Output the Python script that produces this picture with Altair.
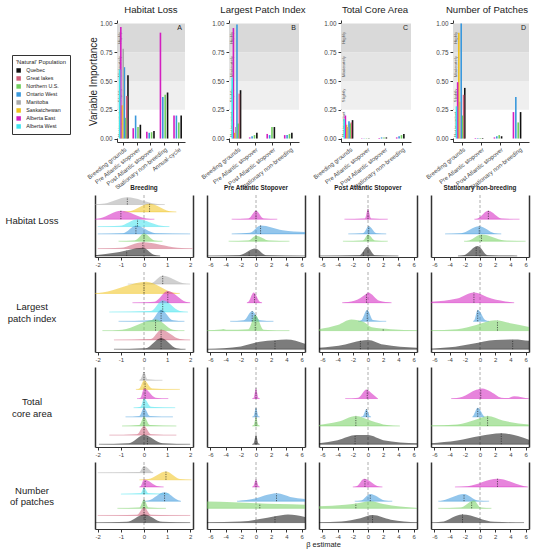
import altair as alt
import numpy as np
import pandas as pd

# ---------------------------------------------------------------- populations
POPS = ["Quebec", "Great lakes", "Northern U.S.", "Ontario West",
        "Manitoba", "Saskatchewan", "Alberta East", "Alberta West"]
POP_COLORS = ["#111111", "#d0607a", "#72cf5e", "#3a98dc",
              "#a9a9a9", "#f0c21c", "#d31fc0", "#3fe3ee"]
LEGEND_TITLE = "'Natural' Population"

# ------------------------------------------------------ variable importance
METRICS = ["Habitat Loss", "Largest Patch Index", "Total Core Area", "Number of Patches"]
PANEL_LETTERS = ["A", "B", "C", "D"]
SEASONS = ["Breeding grounds", "Pre Atlantic stopover", "Post Atlantic stopover",
           "Stationary non-breeding", "Annual-cycle"]
IMPORTANCE_BANDS = ["Not important", "Slightly", "Moderately", "Highly"]
BAND_LIMITS = [0.0, 0.25, 0.5, 0.75, 1.0]
BAND_SHADES = ["#ffffff", "#efefef", "#e4e4e4", "#d9d9d9"]

# breeding-ground importance, POPS order
BREEDING_IMPORTANCE = {
    "Habitat Loss":        [0.55, 0.37, 0.18, 0.62, 0.78, 0.29, 0.97, 0.60],
    "Largest Patch Index": [0.42, 0.39, 0.13, 0.99, 0.10, 0.05, 0.96, 0.53],
    "Total Core Area":     [0.16, 0.14, 0.13, 0.15, 0.10, 0.12, 0.20, 0.17],
    "Number of Patches":   [0.44, 0.38, 0.20, 1.00, 0.32, 0.92, 0.49, 0.28],
}
# other periods, STOPOVER_POPS order
STOPOVER_POPS = ["Alberta East", "Ontario West", "Northern U.S.", "Quebec"]
OTHER_IMPORTANCE = {
    "Habitat Loss": {
        "Pre Atlantic stopover":   [0.09, 0.20, 0.10, 0.12],
        "Post Atlantic stopover":  [0.06, 0.05, 0.055, 0.065],
        "Stationary non-breeding": [0.92, 0.36, 0.38, 0.40],
        "Annual-cycle":            [0.20, 0.20, 0.14, 0.20],
    },
    "Largest Patch Index": {
        "Pre Atlantic stopover":   [0.01, 0.02, 0.03, 0.05],
        "Post Atlantic stopover":  [0.04, 0.03, 0.10, 0.10],
        "Stationary non-breeding": [0.03, 0.03, 0.04, 0.05],
    },
    "Total Core Area": {
        "Pre Atlantic stopover":   [0.003, 0.003, 0.003, 0.003],
        "Post Atlantic stopover":  [0.005, 0.01, 0.01, 0.01],
        "Stationary non-breeding": [0.01, 0.02, 0.03, 0.04],
    },
    "Number of Patches": {
        "Pre Atlantic stopover":   [0.005, 0.005, 0.005, 0.005],
        "Post Atlantic stopover":  [0.01, 0.02, 0.03, 0.02],
        "Stationary non-breeding": [0.23, 0.36, 0.14, 0.23],
    },
}
# left-to-right order of the dodged bars
DODGE_ORDER = ["Alberta West", "Alberta East", "Saskatchewan", "Manitoba",
               "Ontario West", "Northern U.S.", "Great lakes", "Quebec"]

# ------------------------------------------------------------ beta estimates
TRAITS = ["Habitat Loss", "Largest patch index", "Total core area", "Number of patches"]
TRAIT_LABELS = ["Habitat Loss", "Largest\npatch index", "Total\ncore area", "Number\nof patches"]
PERIODS = ["Breeding", "Pre Atlantic Stopover", "Post Atlantic Stopover", "Stationary non-breeding"]
RIDGE_SLOT = {"Quebec": 0, "Great lakes": 1, "Northern U.S.": 2, "Ontario West": 3,
              "Alberta West": 4, "Alberta East": 5, "Saskatchewan": 6, "Manitoba": 7}

# each ridge: population, density knots (beta), density heights, median
RIDGES = {
    ("Habitat Loss", "Breeding"): [
        ("Manitoba",      [-2.12, -1.7, -0.72, 0.5, 0.9],   [0.03, 0.15, 1.0, 0.1, 0], -0.72),
        ("Saskatchewan",  [-0.9, -0.6, 0.24, 1.1, 1.4],     [0, 0.1, 1.1, 0.1, 0], 0.24),
        ("Alberta East",  [-2.12, -1.9, -1.0, 0.1, 0.45],   [0.02, 0.12, 1.15, 0.1, 0], -1.0),
        ("Alberta West",  [-2.0, -1.05, -0.28, 0.75, 1.1],  [0, 0.1, 1.0, 0.1, 0], -0.28),
        ("Ontario West",  [-2.0, -0.9, -0.35, 0.5, 2.0],    [0, 0.1, 1.1, 0.1, 0], -0.35),
        ("Northern U.S.", [-1.1, -0.4, 0.0, 0.45, 0.8],     [0, 0.1, 1.05, 0.1, 0], 0.0),
        ("Great lakes",   [-2.0, -1.0, -0.05, 1.45, 2.1],   [0, 0.1, 0.85, 0.1, 0], -0.05),
        ("Quebec",        [-2.12, -1.2, -0.05, 0.4, 0.7],   [0.1, 0.45, 1.1, 0.2, 0], -0.75),
    ],
    ("Habitat Loss", "Pre Atlantic Stopover"): [
        ("Alberta East",  [-3.2, -1.0, 0.0, 1.0, 2.8],      [0, 0.1, 1.15, 0.1, 0], 0.0),
        ("Ontario West",  [-3.2, -0.8, 0.6, 3.5, 6.45],     [0, 0.15, 1.15, 0.5, 0.25], 0.6),
        ("Northern U.S.", [-3.6, -1.0, 0.0, 1.7, 4.4],      [0, 0.1, 0.75, 0.1, 0], 0.0),
        ("Quebec",        [-6.45, -2.2, -0.1, 1.3, 6.45],   [0, 0.1, 1.0, 0.1, 0], -0.9),
    ],
    ("Habitat Loss", "Post Atlantic Stopover"): [
        ("Alberta East",  [-3.1, -0.4, 0.0, 0.4, 2.6],      [0, 0.1, 1.4, 0.1, 0], 0.0),
        ("Ontario West",  [-2.6, -0.65, 0.1, 1.1, 2.4],     [0, 0.1, 1.05, 0.1, 0], 0.1),
        ("Northern U.S.", [-3.3, -0.65, 0.0, 0.9, 2.6],     [0, 0.1, 0.9, 0.1, 0], 0.0),
        ("Quebec",        [-6.45, -1.1, -0.1, 0.9, 4.0],    [0, 0.1, 1.2, 0.1, 0], -0.6),
    ],
    ("Habitat Loss", "Stationary non-breeding"): [
        ("Alberta East",  [-0.75, -0.3, 1.1, 2.8, 5.2],     [0, 0.1, 1.15, 0.1, 0], 1.1),
        ("Ontario West",  [-4.6, -2.5, -0.1, 1.9, 2.8],     [0, 0.1, 1.05, 0.1, 0], -0.1),
        ("Northern U.S.", [-2.1, -1.4, 0.2, 3.2, 6.0],      [0, 0.1, 0.9, 0.1, 0], 0.2),
        ("Quebec",        [-2.9, -2.1, -0.3, 1.0, 4.9],     [0, 0.1, 1.35, 0.1, 0], -0.5),
    ],
    ("Largest patch index", "Breeding"): [
        ("Manitoba",      [-0.7, 0.3, 0.81, 1.7, 2.0],      [0, 0.1, 0.9, 0.1, 0], 0.81),
        ("Saskatchewan",  [-2.12, -1.8, 0.1, 1.25, 1.55],   [0.02, 0.1, 1.25, 0.1, 0], 0.0),
        ("Alberta East",  [-0.5, 0.45, 1.03, 1.8, 2.0],     [0, 0.1, 1.25, 0.1, 0], 1.03),
        ("Alberta West",  [-1.5, 0.3, 0.81, 1.55, 1.9],     [0, 0.1, 1.25, 0.1, 0], 0.81),
        ("Ontario West",  [-1.1, 0.3, 0.74, 1.25, 1.75],    [0, 0.1, 1.25, 0.1, 0], 0.74),
        ("Northern U.S.", [-1.8, -0.95, 0.52, 1.25, 1.75],  [0, 0.1, 1.2, 0.1, 0], 0.5),
        ("Great lakes",   [-1.3, 0.3, 0.74, 1.55, 2.0],     [0, 0.1, 1.1, 0.1, 0], 0.74),
        ("Quebec",        [-1.3, 0.07, 0.74, 1.4, 1.8],     [0, 0.1, 1.2, 0.1, 0], 0.74),
    ],
    ("Largest patch index", "Pre Atlantic Stopover"): [
        ("Alberta East",  [-1.2, -1.0, -0.3, 0.5, 0.8],     [0, 0.1, 1.1, 0.1, 0], -0.2),
        ("Ontario West",  [-3.4, -1.6, -0.5, 0.5, 2.3],     [0, 0.1, 1.1, 0.1, 0], -0.5),
        ("Northern U.S.", [-6.45, -4.6, -4.3, -3.8, -1.0, -0.1, 1.0, 4.4],
                          [0.05, 0.12, 0.18, 0.08, 0.15, 1.7, 0.1, 0], -0.1),
        ("Quebec",        [-6.45, -2.0, 0.5, 2.5, 4.0, 6.45], [0.03, 0.3, 0.8, 0.95, 1.05, 0.6], 2.5),
    ],
    ("Largest patch index", "Post Atlantic Stopover"): [
        ("Alberta East",  [-3.4, -1.8, -0.3, 0.0, 1.5, 3.1], [0, 0.2, 0.9, 1.1, 0.2, 0], -0.2),
        ("Ontario West",  [-1.3, -0.9, -0.1, 0.65, 2.4],     [0, 0.1, 1.25, 0.15, 0], -0.1),
        ("Northern U.S.", [-6.45, -4.0, -2.2, -0.5, 0.5, 3.0, 6.45],
                          [0.15, 0.6, 1.2, 0.9, 0.35, 0.15, 0.05], 2.0),
        ("Quebec",        [-6.45, -3.0, -1.0, 0.0, 2.0, 6.45], [0.15, 0.5, 0.9, 1.0, 0.5, 0.15], -1.0),
    ],
    ("Largest patch index", "Stationary non-breeding"): [
        ("Alberta East",  [-6.45, -3.0, -0.8, 1.5, 4.5],     [0.1, 0.45, 1.1, 0.45, 0], -0.8),
        ("Ontario West",  [-0.9, -0.75, -0.3, 0.75, 1.2],    [0, 0.1, 1.25, 0.1, 0], -0.3),
        ("Northern U.S.", [-6.45, -3.0, -0.5, 2.0, 4.0, 6.45], [0.05, 0.15, 0.6, 1.1, 0.8, 0.4], 2.3),
        ("Quebec",        [-6.45, -4.0, -1.0, 2.0, 4.5, 6.45], [0.05, 0.2, 0.6, 1.0, 1.05, 0.9], 4.3),
    ],
    ("Total core area", "Breeding"): [
        ("Manitoba",      [-0.2, -0.15, 0.0, 0.15, 0.8],     [0, 0.1, 0.9, 0.1, 0], 0.0),
        ("Saskatchewan",  [-0.35, -0.2, 0.0, 0.35, 1.55],    [0, 0.1, 1.0, 0.1, 0], 0.05),
        ("Alberta East",  [-0.3, -0.15, 0.0, 0.5, 1.05],     [0, 0.1, 1.1, 0.1, 0], 0.05),
        ("Alberta West",  [-0.45, -0.15, 0.0, 0.3, 1.35],    [0, 0.1, 1.0, 0.1, 0], 0.0),
        ("Ontario West",  [-0.8, -0.2, 0.0, 0.25, 1.25],     [0, 0.1, 1.0, 0.1, 0], 0.0),
        ("Northern U.S.", [-0.95, -0.2, 0.0, 0.25, 1.4],     [0, 0.1, 1.0, 0.1, 0], 0.0),
        ("Great lakes",   [-1.5, -0.3, 0.0, 0.3, 1.4],       [0, 0.1, 1.0, 0.1, 0], 0.0),
        ("Quebec",        [-1.95, -0.65, 0.0, 0.8, 2.0],     [0, 0.1, 1.0, 0.1, 0], 0.15),
    ],
    ("Total core area", "Pre Atlantic Stopover"): [
        ("Alberta East",  [-0.5, -0.3, 0.0, 0.3, 0.5],       [0, 0.1, 1.1, 0.1, 0], 0.0),
        ("Ontario West",  [-0.5, -0.3, 0.0, 0.3, 0.5],       [0, 0.1, 1.0, 0.1, 0], 0.0),
        ("Northern U.S.", [-0.5, -0.3, 0.0, 0.3, 0.5],       [0, 0.1, 0.95, 0.1, 0], 0.0),
        ("Quebec",        [-0.5, -0.3, 0.0, 0.3, 0.5],       [0, 0.1, 1.0, 0.1, 0], 0.0),
    ],
    ("Total core area", "Post Atlantic Stopover"): [
        ("Alberta East",  [-3.0, -1.3, -0.2, 0.6, 1.3],      [0, 0.1, 1.0, 0.5, 0], -0.1),
        ("Ontario West",  [-0.9, -0.65, -0.2, 0.2, 0.4],     [0, 0.1, 0.85, 0.1, 0], -0.2),
        ("Northern U.S.", [-6.45, -4.0, -1.6, 0.5, 2.5, 4.2], [0.1, 0.45, 1.1, 0.55, 0.1, 0], -1.6),
        ("Quebec",        [-6.45, -4.0, -1.5, 0.0, 2.0, 6.45], [0.1, 0.45, 1.0, 1.0, 0.45, 0.1], -1.7),
    ],
    ("Total core area", "Stationary non-breeding"): [
        ("Alberta East",  [-3.8, -2.3, -0.5, 0.3, 1.3, 2.8, 3.6, 4.5, 5.5, 6.45],
                          [0, 0.2, 0.95, 1.1, 0.8, 0.1, 0.05, 0.25, 0.15, 0], 0.1),
        ("Ontario West",  [-1.0, -0.9, -0.3, 0.5, 0.6],      [0, 0.1, 1.0, 0.1, 0], -0.3),
        ("Northern U.S.", [-6.45, -3.0, -0.5, 1.0, 3.0, 6.45], [0.05, 0.15, 0.7, 1.1, 0.6, 0.15], 1.0),
        ("Quebec",        [-6.45, -3.0, 0.0, 2.8, 5.0, 6.45], [0.1, 0.4, 0.9, 1.2, 0.9, 0.5], 2.8),
    ],
    ("Number of patches", "Breeding"): [
        ("Manitoba",      [-2.0, -0.2, 0.0, 0.35, 0.4],      [0, 0.1, 0.93, 0.1, 0], 0.0),
        ("Saskatchewan",  [-0.2, 0.2, 0.95, 1.55, 2.05],     [0, 0.1, 1.15, 0.1, 0], 0.95),
        ("Alberta East",  [-0.2, -0.15, 0.0, 0.6, 0.85],     [0, 0.1, 1.05, 0.1, 0], 0.05),
        ("Alberta West",  [-1.0, -0.15, 0.0, 0.2, 1.1],      [0, 0.1, 0.9, 0.1, 0], 0.0),
        ("Ontario West",  [-0.05, 0.2, 0.89, 1.5, 1.6],      [0, 0.1, 1.25, 0.1, 0], 0.89),
        ("Northern U.S.", [-1.15, -0.2, 0.0, 0.2, 0.95],     [0, 0.1, 1.25, 0.1, 0], 0.0),
        ("Great lakes",   [-2.0, -0.3, 0.0, 0.3, 2.0],       [0, 0.1, 1.15, 0.1, 0], 0.0),
        ("Quebec",        [-2.1, -0.75, 0.0, 0.8, 2.0],      [0, 0.1, 1.15, 0.1, 0], 0.05),
    ],
    ("Number of patches", "Pre Atlantic Stopover"): [
        ("Alberta East",  [-0.5, -0.35, 0.0, 0.35, 0.5],     [0, 0.1, 1.05, 0.1, 0], 0.0),
        ("Ontario West",  [-2.5, 0.0, 1.5, 2.8, 4.5, 6.45],  [0, 0.4, 0.9, 1.1, 0.6, 0.3], 2.7),
        ("Northern U.S.", [-6.45, -3.0, 0.0, 3.0, 6.45],     [0.95, 0.85, 0.7, 0.6, 0.5], 0.5),
        ("Quebec",        [-6.45, -2.0, 0.5, 2.5, 4.2, 6.45], [0.05, 0.15, 0.5, 0.9, 1.15, 0.8], 2.5),
    ],
    ("Number of patches", "Post Atlantic Stopover"): [
        ("Alberta East",  [-2.0, -1.5, -0.5, 1.3, 1.9],      [0, 0.1, 1.15, 0.1, 0], -0.4),
        ("Ontario West",  [-1.75, -0.9, 0.3, 2.2, 3.2],      [0, 0.1, 1.0, 0.1, 0], 0.3),
        ("Northern U.S.", [-6.45, -3.0, -1.0, 0.3, 2.0, 6.45], [0.3, 0.5, 0.8, 1.0, 0.6, 0.05], -1.6),
        ("Quebec",        [-6.45, -3.5, -1.0, 0.6, 3.0, 6.45], [0.05, 0.15, 0.6, 1.05, 0.4, 0.05], 0.6),
    ],
    ("Number of patches", "Stationary non-breeding"): [
        ("Alberta East",  [-3.3, -1.6, 2.3, 5.8, 6.3],       [0, 0.1, 1.15, 0.1, 0], 2.3),
        ("Ontario West",  [-5.5, -4.9, -2.1, -0.3, 1.2],     [0, 0.1, 1.0, 0.1, 0], -2.1),
        ("Northern U.S.", [-5.5, -2.6, -0.8, 0.1, 1.5],      [0, 0.1, 1.1, 0.1, 0], -1.1),
        ("Quebec",        [-6.45, -5.1, -2.3, 1.9, 5.8],     [0, 0.1, 1.15, 0.1, 0], -2.3),
    ],
}

# ------------------------------------------------------------------ layout
LABEL_W = 74
PANEL_W = 98
BAR_H = 122
GAP_H = 23
ROW_H = {"Habitat Loss": 62, "Largest patch index": 80, "Total core area": 80, "Number of patches": 67}
ROW_YDOMAIN = {"Habitat Loss": [-0.15, 8.3], "Largest patch index": [-0.3, 8.3],
               "Total core area": [-0.3, 8.45], "Number of patches": [-0.9, 8.5]}
BAR_PLOT_LEFT = 22
BAR_PLOT_RIGHT = [90, 92, 92, 98]

color_scale = alt.Scale(domain=POPS, range=POP_COLORS)
AXIS_DARK = "#333333"
LABEL_GREY = "#444444"


def blank(w, h):
    return (alt.Chart(pd.DataFrame({"t": [""]}))
            .mark_text()
            .encode(text="t:N", x=alt.value(0), y=alt.value(0))
            .properties(width=w, height=h))


def importance_panel(i, metric):
    periods = SEASONS if i == 0 else SEASONS[:4]
    rows = []
    for pop, v in zip(POPS, BREEDING_IMPORTANCE[metric]):
        rows.append({"season": "Breeding grounds", "pop": pop, "value": v,
                     "slot": "s%d" % DODGE_ORDER.index(pop)})
    for season, vals in OTHER_IMPORTANCE[metric].items():
        for k, (pop, v) in enumerate(zip(STOPOVER_POPS, vals)):
            rows.append({"season": season, "pop": pop, "value": v, "slot": "s%d" % (2 * k)})
    bars_df = pd.DataFrame(rows)

    bands_df = pd.DataFrame({
        "lo": BAND_LIMITS[:-1], "hi": BAND_LIMITS[1:], "shade": BAND_SHADES,
        "label": IMPORTANCE_BANDS,
        "mid": [(a + b) / 2 for a, b in zip(BAND_LIMITS[:-1], BAND_LIMITS[1:])],
    })

    right = BAR_PLOT_RIGHT[i]
    yscale = alt.Scale(domain=[-0.03, 1.03], nice=False, zero=False)
    yaxis = alt.Axis(values=[0, 0.25, 0.5, 0.75, 1.0], format=".2f",
                     title=("Variable Importance" if i == 0 else None),
                     offset=-BAR_PLOT_LEFT, grid=False, tickSize=3, labelPadding=2,
                     labelFontSize=6.3, labelColor=LABEL_GREY, titleFontSize=10,
                     titleFontWeight="normal", titleColor="#222222", titlePadding=1,
                     domainColor=AXIS_DARK, tickColor=AXIS_DARK)
    xaxis = alt.Axis(title=None, labelAngle=322, labelAlign="right", labelBaseline="top",
                     labelFontSize=6, labelColor=LABEL_GREY, labelPadding=1, tickSize=3,
                     tickColor=AXIS_DARK, domainColor=AXIS_DARK, labelOverlap=False, labelLimit=0)

    bands = alt.Chart(bands_df).mark_rect().encode(
        x=alt.XDatum(0, scale=alt.Scale(domain=[0, 1], range=[BAR_PLOT_LEFT, right]), axis=None),
        x2=alt.X2Datum(1),
        y=alt.Y("lo:Q", scale=yscale, axis=yaxis),
        y2="hi:Q",
        fill=alt.Fill("shade:N", scale=None),
    )
    band_text = alt.Chart(bands_df).mark_text(angle=270, fontSize=4.2, color="#555555").encode(
        x=alt.value(BAR_PLOT_LEFT + 3),
        y=alt.Y("mid:Q", scale=yscale, axis=yaxis),
        text="label:N",
    )
    bars = alt.Chart(bars_df).mark_bar(width=1.6).encode(
        x=alt.X("season:N", scale=alt.Scale(domain=periods, range=[BAR_PLOT_LEFT, right],
                                            paddingInner=0.3, paddingOuter=0.15), axis=xaxis),
        xOffset=alt.XOffset("slot:N", scale=alt.Scale(domain=["s%d" % k for k in range(8)])),
        y=alt.Y("value:Q", scale=yscale, axis=yaxis),
        color=alt.Color("pop:N", scale=color_scale, title=LEGEND_TITLE),
    )
    letter = alt.Chart(pd.DataFrame({"t": [PANEL_LETTERS[i]]})).mark_text(
        fontSize=7, align="right", baseline="top", color="#222222").encode(
        text="t:N", x=alt.value(right - 3), y=alt.value(4))

    return (alt.layer(bands, band_text, bars, letter)
            .resolve_scale(x="independent")
            .properties(width=PANEL_W, height=BAR_H,
                        title=alt.TitleParams(metric, fontSize=9.6, fontWeight="normal",
                                              color="#222222", offset=5, dx=7, frame="group")))


def ridge_panel(trait, period, r, c):
    area_rows, tail_rows, med_rows = [], [], []
    entries = sorted(RIDGES[(trait, period)], key=lambda e: -RIDGE_SLOT[e[0]])
    for pop, xs, hs, med in entries:
        slot = RIDGE_SLOT[pop]
        for x, h in zip(xs, hs):
            area_rows.append({"pop": pop, "beta": x, "top": slot + h, "base": slot})
        tail_rows.append({"pop": pop, "lo": xs[0], "hi": xs[-1], "base": slot})
        med_rows.append({"pop": pop, "beta": med, "base": slot,
                         "top": slot + float(np.interp(med, xs, hs))})

    if period == "Breeding":
        dom, ticks = [-2.12, 2.12], [-2, -1, 0, 1, 2]
    else:
        dom, ticks = [-6.45, 6.45], [-6, -4, -2, 0, 2, 4, 6]
    xscale = alt.Scale(domain=dom, nice=False, zero=False)
    bottom_title = "\u03b2 estimate" if (r == 3 and c == 2) else None
    xaxis = alt.Axis(values=ticks, labelExpr="'' + datum.value", title=bottom_title,
                     titleX=4, titleAlign="center", titleFontSize=7.5, titleFontWeight="normal",
                     titleColor="#222222", titlePadding=1,
                     grid=False, tickSize=3, labelFontSize=6, labelColor=LABEL_GREY,
                     labelPadding=1, domainColor=AXIS_DARK, domainWidth=1.2,
                     tickColor=AXIS_DARK, labelFlush=False)
    yscale = alt.Scale(domain=ROW_YDOMAIN[trait], nice=False, zero=False)
    frame_left = alt.Axis(orient="left", labels=False, ticks=False, grid=False, title=None,
                          domainColor=AXIS_DARK, domainWidth=1.5)
    frame_right = alt.Axis(orient="right", labels=False, ticks=False, grid=False, title=None,
                           domainColor=AXIS_DARK, domainWidth=1.5)
    color = alt.Color("pop:N", scale=color_scale, title=LEGEND_TITLE)

    zero = alt.Chart(pd.DataFrame({"z": [0]})).mark_rule(
        color="#999999", strokeDash=[3, 2], strokeWidth=0.8).encode(
        x=alt.X("z:Q", scale=xscale, axis=xaxis))
    tails = alt.Chart(pd.DataFrame(tail_rows)).mark_rule(strokeWidth=0.7, opacity=0.6).encode(
        x=alt.X("lo:Q", scale=xscale, axis=xaxis), x2="hi:Q",
        y=alt.Y("base:Q", scale=yscale, axis=frame_right),
        color=color)
    areas = alt.Chart(pd.DataFrame(area_rows)).mark_area(
        interpolate="monotone", fillOpacity=0.55, orient="vertical").encode(
        x=alt.X("beta:Q", scale=xscale, axis=xaxis),
        y=alt.Y("top:Q", scale=yscale, axis=frame_left, stack=None), y2="base:Q",
        color=color, detail="pop:N")
    meds = alt.Chart(pd.DataFrame(med_rows)).mark_rule(
        color="#222222", strokeDash=[1.2, 1.2], strokeWidth=0.8, opacity=0.85).encode(
        x=alt.X("beta:Q", scale=xscale, axis=xaxis),
        y=alt.Y("base:Q", scale=yscale, axis=None), y2="top:Q")

    props = dict(width=PANEL_W, height=ROW_H[trait])
    if r == 0:
        props["title"] = alt.TitleParams(period, fontSize=6.3, fontWeight="bold",
                                         color="#222222", offset=3)
    return alt.layer(zero, tails, areas, meds).resolve_axis(y="independent").properties(**props)


def row_label(r, trait):
    h = ROW_H[trait]
    return (alt.Chart(pd.DataFrame({"t": [TRAIT_LABELS[r]]}))
            .mark_text(fontSize=9.5, lineBreak="\n", lineHeight=11.5, align="center",
                       baseline="middle", color="#222222")
            .encode(text="t:N", x=alt.value(25), y=alt.value(h / 2 - 5))
            .properties(width=LABEL_W, height=h))


views = [blank(LABEL_W, BAR_H)]
views += [importance_panel(i, m) for i, m in enumerate(METRICS)]
views += [blank(LABEL_W, GAP_H)] + [blank(PANEL_W, GAP_H) for _ in range(4)]
for r, trait in enumerate(TRAITS):
    views.append(row_label(r, trait))
    for c, period in enumerate(PERIODS):
        views.append(ridge_panel(trait, period, r, c))

chart = (
    alt.concat(*views, columns=5, spacing={"row": 15, "column": 14},
               bounds="flush", align="each")
    .properties(padding={"left": 5, "top": 5, "right": 2, "bottom": 1})
    .configure(font="Liberation Sans")
    .configure_view(stroke=None)
    .configure_legend(orient="none", legendX=5, legendY=35, strokeColor="#333333",
                      padding=4, titleFontSize=5.8, titleFontWeight="normal",
                      titleColor="#222222", labelFontSize=5.3, labelColor="#222222",
                      symbolType="square", symbolSize=20, symbolStrokeWidth=0,
                      symbolOpacity=1, rowPadding=2, titlePadding=3, labelOffset=5,
                      fillColor="white")
)

chart.save("out.html", embed_options={"renderer": "svg", "actions": False})
